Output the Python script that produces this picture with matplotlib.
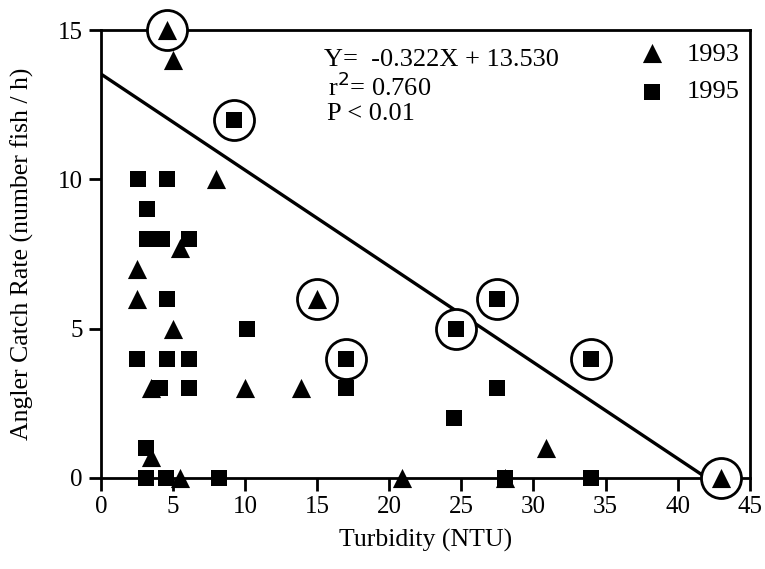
import matplotlib.pyplot as plt
import numpy as np

plt.rcParams["font.family"] = ["Liberation Serif", "DejaVu Serif"]

# 1993 (triangles)
x_1993 = [4.6, 5.0, 8.0, 2.5, 2.5, 5.0, 5.5, 3.5, 10.0, 3.5, 5.5, 13.9, 15.0, 20.9, 30.9, 43.0, 28.0]
y_1993 = [15, 14, 10, 7, 6, 5, 7.7, 3, 3, 0.7, 0, 3, 6, 0, 1, 0, 0]
# 1995 (squares)
x_1995 = [2.6, 4.6, 3.2, 3.2, 4.2, 6.1, 4.6, 10.1, 2.5, 4.6, 6.1, 4.1, 6.1, 3.1, 3.1, 4.5,
          8.2, 9.2, 17.0, 17.0, 24.6, 27.5, 27.5, 24.5, 34.0, 28.0, 34.0]
y_1995 = [10, 10, 9, 8, 8, 8, 6, 5, 4, 4, 4, 3, 3, 1, 0, 0,
          0, 12, 4, 3, 5, 6, 3, 2, 4, 0, 0]
# circled points
x_circ = [4.6, 9.2, 15.0, 17.0, 24.6, 27.5, 34.0, 43.0]
y_circ = [15, 12, 6, 4, 5, 6, 4, 0]

slope, intercept = -0.322, 13.530

fig = plt.figure(figsize=(7.65, 5.69), dpi=100)
ax = fig.add_axes([0.132, 0.160, 0.848, 0.787])

xl = np.array([0, -intercept / slope])
ax.plot(xl, slope * xl + intercept, color="black", lw=2.4, zorder=2)

ax.scatter(x_1993, y_1993, marker="^", s=190, color="black", clip_on=False, zorder=4, linewidths=0)
ax.scatter(x_1995, y_1995, marker="s", s=145, color="black", clip_on=False, zorder=4, linewidths=0)
ax.scatter(x_circ, y_circ, marker="o", s=830, facecolors="white", edgecolors="black",
           linewidths=2, clip_on=False, zorder=3)

ax.set_xlim(0, 45)
ax.set_ylim(0, 15)
ax.set_xticks(np.arange(0, 46, 5))
ax.set_yticks([0, 5, 10, 15])
for s in ax.spines.values():
    s.set_linewidth(2)
ax.tick_params(direction="out", length=9, width=2, labelsize=18, pad=4)

ax.set_xlabel("Turbidity (NTU)", fontsize=18.5, labelpad=8)
ax.set_ylabel("Angler Catch Rate (number fish / h)", fontsize=18.5, labelpad=17)

ax.text(15.5, 14.0, "Y=  -0.322X + 13.530", fontsize=19, va="center")
ax.text(15.75, 13.1, "r$^2$= 0.760", fontsize=19, va="center")
ax.text(15.65, 12.2, "P < 0.01", fontsize=19, va="center")

ax.scatter([38.2], [14.22], marker="^", s=190, color="black", linewidths=0)
ax.scatter([38.2], [12.93], marker="s", s=145, color="black", linewidths=0)
ax.text(40.6, 14.16, "1993", fontsize=19, va="center")
ax.text(40.6, 12.93, "1995", fontsize=19, va="center")

fig.savefig("out.png", dpi=100)
